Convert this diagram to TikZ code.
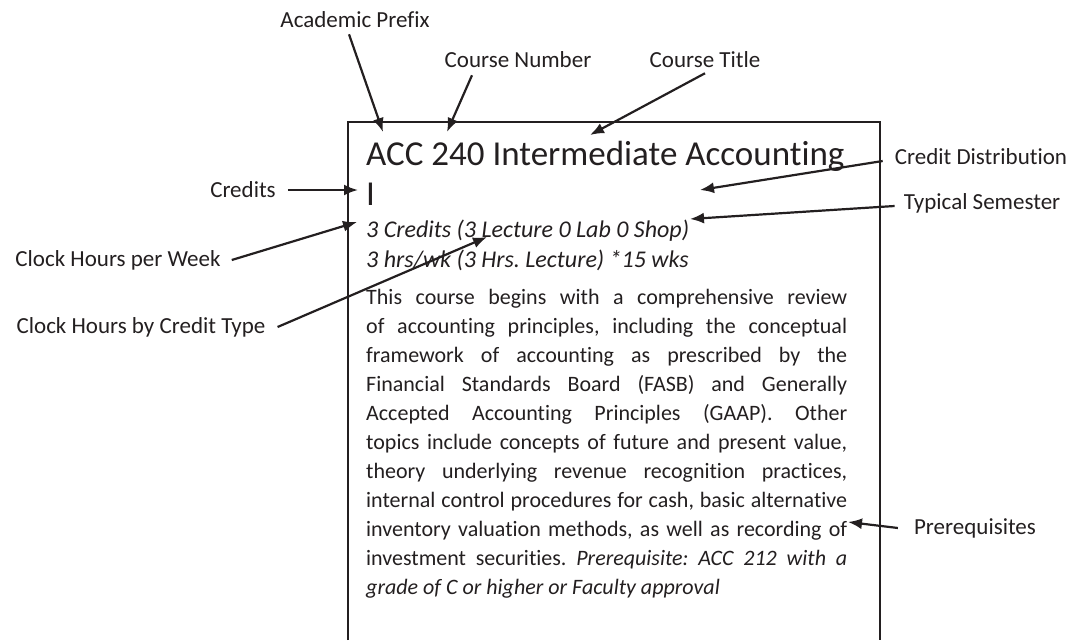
\documentclass[tikz,border=0pt]{standalone}
\usepackage{fontspec}
\setmainfont{Carlito}[Ligatures=NoCommon]
\usepackage{tikz}
\usetikzlibrary{arrows.meta,positioning}
\usepackage{xcolor}
\definecolor{ink}{HTML}{231F20}
\tikzset{
  callout/.style={font=\fontsize{23}{27}\selectfont,text=ink,inner sep=0pt},
  heading/.style={font=\fontsize{35}{40}\selectfont,text=ink,inner sep=0pt,anchor=base west},
  infoline/.style={font=\fontsize{24}{29}\selectfont\itshape\frenchspacing,text=ink,inner sep=0pt,anchor=base west},
  body/.style={font=\fontsize{22}{29}\selectfont\frenchspacing,text=ink,inner sep=0pt,anchor=north west,text width=481pt,align=justify},
  card/.style={line width=2.4pt,draw=ink},
  pointer/.style={-{Latex[length=14pt,width=11pt]},line width=2.2pt,draw=ink}
}

\begin{document}
\begin{tikzpicture}[x=1pt,y=-1pt]
\useasboundingbox (0,0) rectangle (1071,640);
% catalogue entry, open at the bottom
\draw[card] (348,640) -- (348,122) -- (880,122) -- (880,640);

\node[heading] (title) at (366,165) {ACC 240 Intermediate Accounting};
\node[heading] (titlecont) at (366,205) {I};
\node[infoline] (credline) at (366,237) {3 Credits (3 Lecture 0 Lab 0 Shop)};
\node[infoline] (hrsline) at (366,267) {3 hrs/wk (3 Hrs. Lecture) *15 wks};
\node[body] (descr) at (366,283.7) {\tolerance=10000\strut This course begins with a comprehensive review\linebreak
of accounting principles, including the conceptual\linebreak
framework of accounting as prescribed by the\linebreak
Financial Standards Board (FASB) and Generally\linebreak
Accepted Accounting Principles (GAAP). Other\linebreak
topics include concepts of future and present value,\linebreak
theory underlying revenue recognition practices,\linebreak
internal control procedures for cash, basic alternative\linebreak
inventory valuation methods, as well as recording of\linebreak
investment securities. \textit{Prerequisite: ACC 212 with a\linebreak
grade of C or higher or Faculty approval}};

% callouts
\node[callout] (acad) at (355,20) {Academic Prefix};
\node[callout] (cnum) at (518,60) {Course Number};
\node[callout] (ctitle) at (705,60) {Course Title};
\node[callout] (credits) at (243,190) {Credits};
\node[callout] (cdist) at (981,157) {Credit Distribution};
\node[callout] (tsem) at (982,203) {Typical Semester};
\node[callout] (hweek) at (118,260) {Clock Hours per Week};
\node[callout] (htype) at (141,327) {Clock Hours by Credit Type};
\node[callout] (prereq) at (975,528) {Prerequisites};

\coordinate (acad-tip) at (383,132);
\coordinate (cnum-tip) at (447,132);
\coordinate (ctitle-tip) at (590,135);
\coordinate (credits-tip) at (358,190);
\coordinate (cdist-tip) at (700,190);
\coordinate (tsem-tip) at (690,219);
\coordinate (hweek-tip) at (357,222);
\coordinate (htype-tip) at (487,237);
\coordinate (prereq-tip) at (848,522);

\draw[pointer] ([xshift=-6pt,yshift=-6pt]acad.south) -- (acad-tip);
\draw[pointer] ([xshift=-46pt,yshift=-7pt]cnum.south) -- (cnum-tip);
\draw[pointer] ([yshift=-5pt]ctitle.south) -- (ctitle-tip);
\draw[pointer] ([xshift=12pt]credits.east) -- (credits-tip);
\draw[pointer] ([xshift=-12pt,yshift=-4pt]cdist.west) -- (cdist-tip);
\draw[pointer] ([xshift=-9pt,yshift=-3pt]tsem.west) -- (tsem-tip);
\draw[pointer] ([xshift=11pt]hweek.east) -- (hweek-tip);
\draw[pointer] ([xshift=12pt]htype.east) -- (htype-tip);
\draw[pointer] ([xshift=-16pt]prereq.west) -- (prereq-tip);
\end{tikzpicture}
\end{document}
